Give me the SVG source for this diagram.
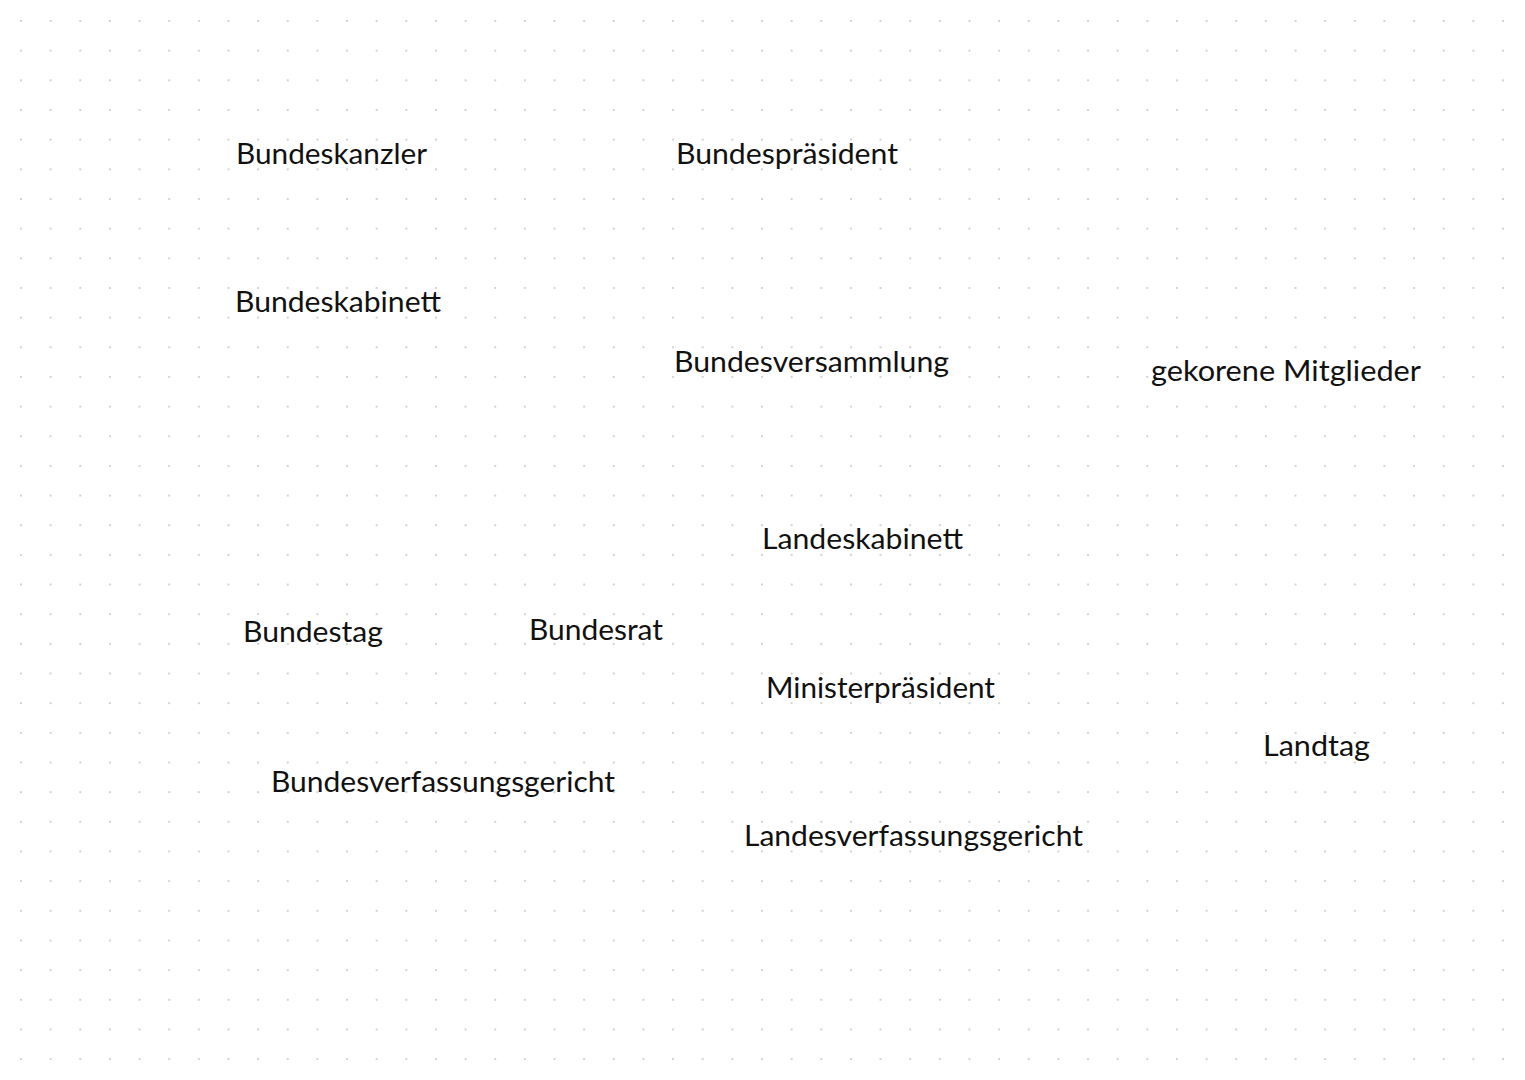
<svg xmlns="http://www.w3.org/2000/svg" width="1525" height="1080" viewBox="0 0 1525 1080">
<defs>
<pattern id="dots" x="21" y="21" width="29.64" height="29.66" patternUnits="userSpaceOnUse">
<circle cx="0" cy="0" r="1" fill="#c4c4c4"/>
<circle cx="29.64" cy="0" r="1" fill="#c4c4c4"/>
<circle cx="0" cy="29.66" r="1" fill="#c4c4c4"/>
<circle cx="29.64" cy="29.66" r="1" fill="#c4c4c4"/>
</pattern>
<style>
.t{font-family:Lato,"Noto Sans",sans-serif;font-size:29px;fill:#111}
</style>
</defs>
<rect width="1525" height="1080" fill="#fff"/>
<rect x="19" y="19" width="1487" height="1043" fill="url(#dots)"/>
<g id="connectors"></g>
<g id="bundeskanzler"><text class="t" x="236" y="164" textLength="191" lengthAdjust="spacingAndGlyphs">Bundeskanzler</text></g>
<g id="bundespraesident"><text class="t" x="676" y="164" textLength="222" lengthAdjust="spacingAndGlyphs">Bundespräsident</text></g>
<g id="bundeskabinett"><text class="t" x="235" y="312" textLength="206" lengthAdjust="spacingAndGlyphs">Bundeskabinett</text></g>
<g id="bundesversammlung"><text class="t" x="674" y="372" textLength="275" lengthAdjust="spacingAndGlyphs">Bundesversammlung</text></g>
<g id="gekorene"><text class="t" x="1151" y="381" textLength="270" lengthAdjust="spacingAndGlyphs">gekorene Mitglieder</text></g>
<g id="landeskabinett"><text class="t" x="762" y="549" textLength="201" lengthAdjust="spacingAndGlyphs">Landeskabinett</text></g>
<g id="bundestag"><text class="t" x="243" y="642" textLength="140" lengthAdjust="spacingAndGlyphs">Bundestag</text></g>
<g id="bundesrat"><text class="t" x="529" y="640" textLength="134" lengthAdjust="spacingAndGlyphs">Bundesrat</text></g>
<g id="ministerpraesident"><text class="t" x="766" y="698" textLength="229" lengthAdjust="spacingAndGlyphs">Ministerpräsident</text></g>
<g id="landtag"><text class="t" x="1263" y="756" textLength="107" lengthAdjust="spacingAndGlyphs">Landtag</text></g>
<g id="bverfg"><text class="t" x="271" y="792" textLength="344" lengthAdjust="spacingAndGlyphs">Bundesverfassungsgericht</text></g>
<g id="lverfg"><text class="t" x="744" y="846" textLength="339" lengthAdjust="spacingAndGlyphs">Landesverfassungsgericht</text></g>
</svg>
